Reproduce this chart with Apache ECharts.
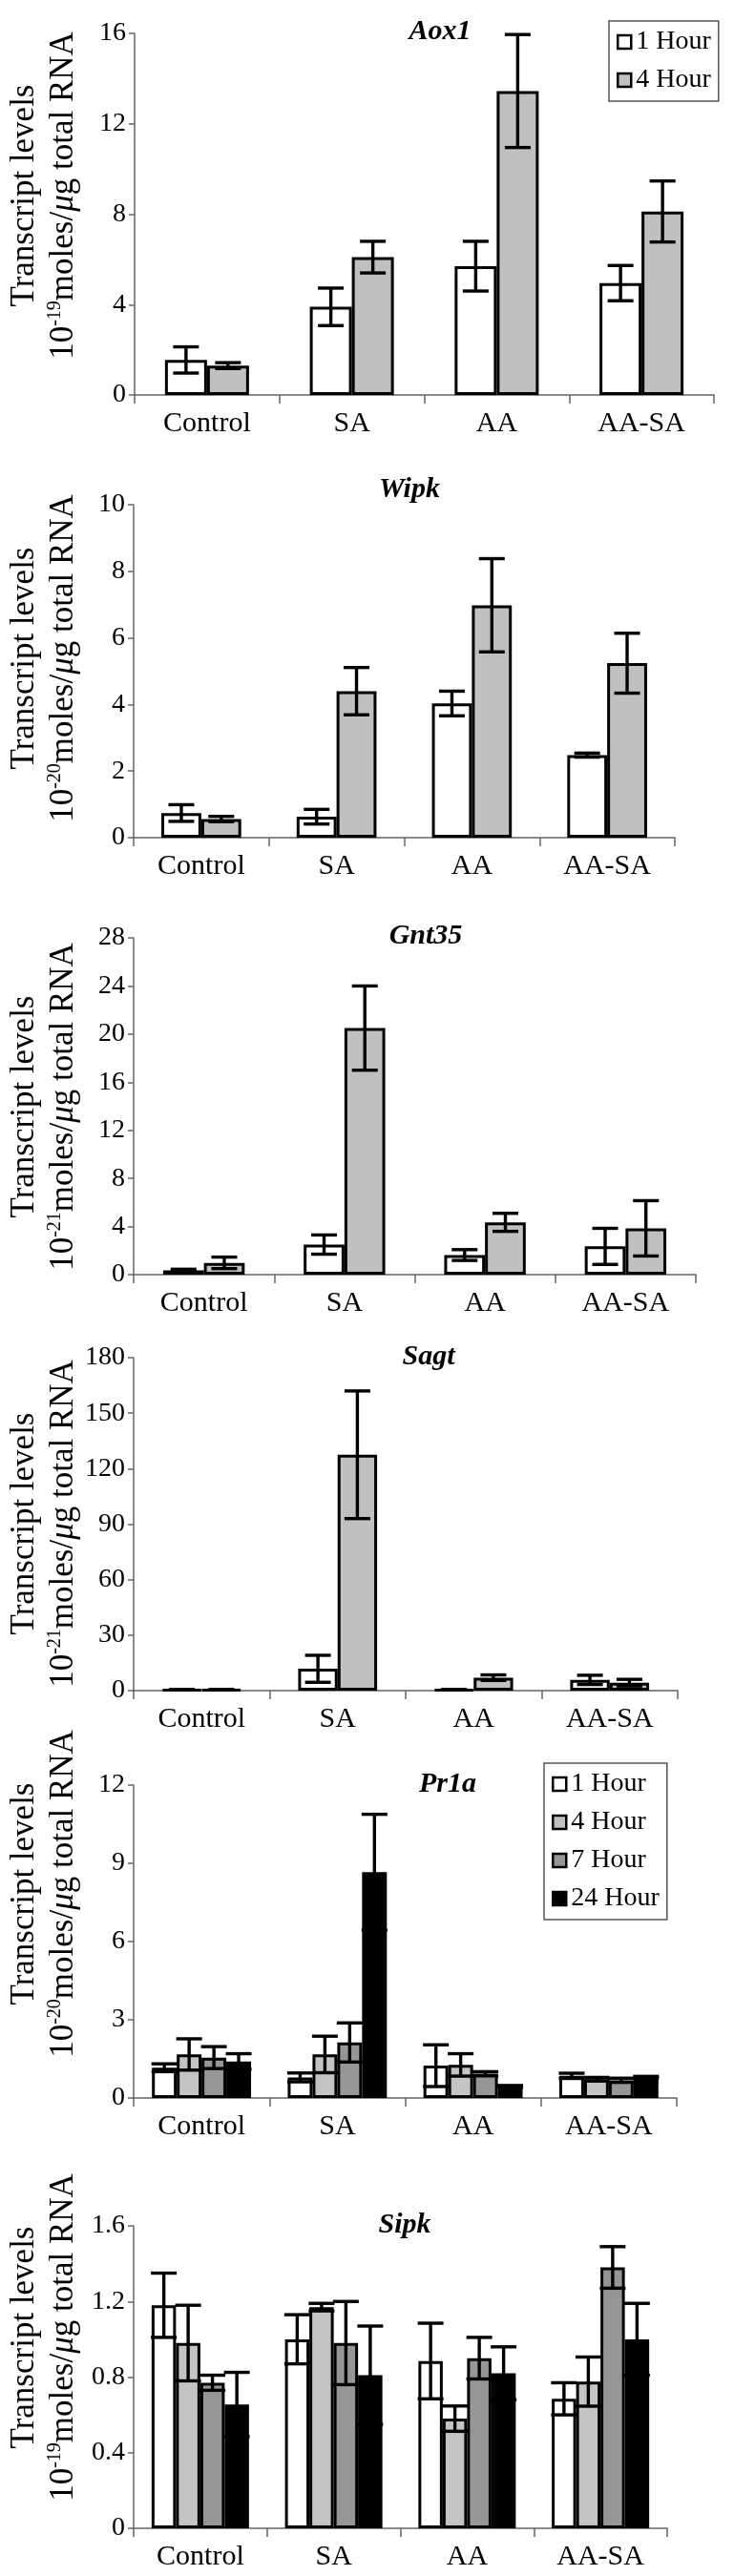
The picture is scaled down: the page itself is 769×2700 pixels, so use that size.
<!DOCTYPE html>
<html>
<head>
<meta charset="utf-8">
<script src="https://cdn.jsdelivr.net/npm/echarts@6/dist/echarts.min.js"></script>
<style>
html,body{margin:0;padding:0;background:#fff;}
#chart{width:769px;height:2700px;}
</style>
</head>
<body>
<div id="chart"></div>
<script>
// ---------- DATA ----------
const categories = ['Control', 'SA', 'AA', 'AA-SA'];
const seriesNames = ['1 Hour', '4 Hour', '7 Hour', '24 Hour'];

const aox1_1h = [1.55, 3.9, 5.7, 4.95];
const aox1_1h_err = [0.58, 0.83, 1.1, 0.78];
const aox1_4h = [1.3, 6.1, 13.45, 8.12];
const aox1_4h_err = [0.13, 0.7, 2.5, 1.35];

const wipk_1h = [0.74, 0.63, 4.03, 2.48];
const wipk_1h_err = [0.25, 0.22, 0.37, 0.06];
const wipk_4h = [0.56, 4.4, 6.98, 5.24];
const wipk_4h_err = [0.08, 0.71, 1.4, 0.9];

const gnt35_1h = [0.35, 2.5, 1.63, 2.35];
const gnt35_1h_err = [0.1, 0.8, 0.45, 1.5];
const gnt35_4h = [0.98, 20.5, 4.35, 3.85];
const gnt35_4h_err = [0.48, 3.5, 0.75, 2.3];

const sagt_1h = [0.5, 11.8, 0.5, 5.8];
const sagt_1h_err = [0.1, 7.3, 0.1, 2.5];
const sagt_4h = [0.5, 127.5, 7.0, 4.3];
const sagt_4h_err = [0.1, 34.5, 1.5, 1.8];

const pr1a_1h = [1.16, 0.79, 1.24, 0.85];
const pr1a_1h_err = [0.15, 0.17, 0.8, 0.1];
const pr1a_4h = [1.67, 1.67, 1.27, 0.72];
const pr1a_4h_err = [0.6, 0.7, 0.43, 0.07];
const pr1a_7h = [1.55, 2.13, 0.93, 0.68];
const pr1a_7h_err = [0.42, 0.75, 0.08, 0.08];
const pr1a_24h = [1.40, 8.66, 0.45, 0.8];
const pr1a_24h_err = [0.3, 2.22, 0.03, 0.03];

const sipk_1h = [1.18, 1.0, 0.885, 0.685];
const sipk_1h_err = [0.17, 0.13, 0.2, 0.085];
const sipk_4h = [0.98, 1.17, 0.58, 0.776];
const sipk_4h_err = [0.2, 0.02, 0.067, 0.13];
const sipk_7h = [0.77, 0.98, 0.9, 1.38];
const sipk_7h_err = [0.04, 0.22, 0.11, 0.11];
const sipk_24h = [0.655, 0.81, 0.82, 1.0];
const sipk_24h_err = [0.17, 0.26, 0.14, 0.19];

// ---------- LAYOUT ----------
const FONT = '"Liberation Serif", "Times New Roman", serif';
const twoColors = ['#ffffff', '#c0c0c0'];
const fourColors = ['#ffffff', '#c4c4c4', '#969696', '#000000'];

const panels = [
  {gene:'Aox1', exp:'-19', left:141, top:35, width:607, height:379, max:16, interval:4,
   vals:[aox1_1h, aox1_4h], errs:[aox1_1h_err, aox1_4h_err], colors:twoColors, gap:0.42,
   titleX:461, titleY:33, nameY:205},
  {gene:'Wipk', exp:'-20', left:140, top:529, width:567, height:349, max:10, interval:2,
   vals:[wipk_1h, wipk_4h], errs:[wipk_1h_err, wipk_4h_err], colors:twoColors, gap:0.41,
   titleX:429, titleY:513, nameY:690},
  {gene:'Gnt35', exp:'-21', left:140, top:983, width:589, height:353, max:28, interval:4,
   vals:[gnt35_1h, gnt35_4h], errs:[gnt35_1h_err, gnt35_4h_err], colors:twoColors, gap:0.42,
   titleX:446, titleY:981, nameY:1160},
  {gene:'Sagt', exp:'-21', left:140, top:1423, width:570, height:349, max:180, interval:30,
   vals:[sagt_1h, sagt_4h], errs:[sagt_1h_err, sagt_4h_err], colors:twoColors, gap:0.42,
   titleX:449, titleY:1422, nameY:1597},
  {gene:'Pr1a', exp:'-20', left:140, top:1871, width:569, height:328, max:12, interval:3,
   vals:[pr1a_1h, pr1a_4h, pr1a_7h, pr1a_24h], errs:[pr1a_1h_err, pr1a_4h_err, pr1a_7h_err, pr1a_24h_err],
   colors:fourColors, gap:0.27, titleX:469, titleY:1870, nameY:1985},
  {gene:'Sipk', exp:'-19', left:140, top:2333, width:559, height:317, max:1.6, interval:0.4,
   vals:[sipk_1h, sipk_4h, sipk_7h, sipk_24h], errs:[sipk_1h_err, sipk_4h_err, sipk_7h_err, sipk_24h_err],
   colors:fourColors, gap:0.27, titleX:424, titleY:2332, nameY:2450}
];

function errRenderer(sIdx, nSeries, gapFrac) {
  return function (params, api) {
    const cat = api.value(0), lo = api.value(1), hi = api.value(2);
    const band = api.size([1, 0])[0];
    const groupW = band * (1 - gapFrac);
    const barW = groupW / nSeries;
    const c = api.coord([cat, 0]);
    const x = c[0] - groupW / 2 + barW * (sIdx + 0.5);
    const yHi = api.coord([cat, hi])[1];
    const yLo = api.coord([cat, lo])[1];
    const cap = 13.5;
    const st = {stroke:'#000', lineWidth:3.4};
    return {type:'group', children:[
      {type:'line', shape:{x1:x, y1:yHi, x2:x, y2:yLo}, style:st},
      {type:'line', shape:{x1:x-cap, y1:yHi, x2:x+cap, y2:yHi}, style:st},
      {type:'line', shape:{x1:x-cap, y1:yLo, x2:x+cap, y2:yLo}, style:st}
    ]};
  };
}

const grids = [], xAxes = [], yAxes = [], series = [], graphics = [];
panels.forEach(function (p, pi) {
  grids.push({left:p.left, top:p.top, width:p.width, height:p.height, containLabel:false});
  xAxes.push({
    type:'category', gridIndex:pi, data:categories,
    axisLine:{lineStyle:{color:'#666', width:1.5}},
    axisTick:{show:true, length:9, lineStyle:{color:'#666', width:1.5}},
    axisLabel:{fontFamily:FONT, fontSize:30, color:'#000', margin:15}
  });
  yAxes.push({
    type:'value', gridIndex:pi, min:0, max:p.max, interval:p.interval,
    axisLine:{show:true, lineStyle:{color:'#666', width:1.5}},
    axisTick:{show:true, length:6, lineStyle:{color:'#666', width:1.5}},
    splitLine:{show:false},
    axisLabel:{fontFamily:FONT, fontSize:28, color:'#000', margin:9,
      formatter:function (v) { return String(+v.toFixed(2)); }}
  });
  const n = p.vals.length;
  p.vals.forEach(function (vals, s) {
    series.push({
      type:'bar', name:seriesNames[s], xAxisIndex:pi, yAxisIndex:pi, data:vals,
      barGap:'0%', barCategoryGap:(p.gap * 100) + '%',
      itemStyle:{color:p.colors[s], borderColor:'#000', borderWidth:3},
      z:2, silent:true
    });
  });
  p.vals.forEach(function (vals, s) {
    const errs = p.errs[s];
    series.push({
      type:'custom', name:'err', xAxisIndex:pi, yAxisIndex:pi,
      data:vals.map(function (v, i) { return [i, v - errs[i], v + errs[i]]; }),
      encode:{x:0, y:[1, 2]},
      renderItem:errRenderer(s, n, p.gap), z:5, silent:true
    });
  });
  graphics.push({
    type:'text', x:p.titleX, y:p.titleY,
    style:{text:p.gene, font:'italic bold 30px ' + FONT, fill:'#000',
      textAlign:'center', textVerticalAlign:'middle', align:'center', verticalAlign:'middle'}
  });
  graphics.push({
    type:'text', x:26, y:p.nameY, rotation:Math.PI / 2,
    style:{text:'Transcript levels', font:'35px ' + FONT, fill:'#000',
      textAlign:'center', textVerticalAlign:'middle', align:'center', verticalAlign:'middle'}
  });
  graphics.push({
    type:'text', x:66, y:p.nameY, rotation:Math.PI / 2,
    style:{
      text:'{a|10}{s|' + p.exp + '}{a|moles/}{m|\u03bc}{a|g total RNA}',
      textAlign:'center', textVerticalAlign:'middle', align:'center', verticalAlign:'middle',
      rich:{
        a:{fontFamily:FONT, fontSize:35, fill:'#000', color:'#000', verticalAlign:'bottom', lineHeight:36},
        s:{fontFamily:FONT, fontSize:20, fill:'#000', color:'#000', verticalAlign:'top', lineHeight:36},
        m:{fontFamily:FONT, fontSize:35, fontStyle:'italic', fill:'#000', color:'#000', verticalAlign:'bottom', lineHeight:36}
      }
    }
  });
});

const legendBase = {
  orient:'vertical', icon:'rect', itemWidth:14, itemHeight:14, itemGap:12,
  padding:[8, 8, 8, 8], borderColor:'#555', borderWidth:1.5, backgroundColor:'#fff',
  textStyle:{fontFamily:FONT, fontSize:28, color:'#000'},
  itemStyle:{borderColor:'#000', borderWidth:2.5},
  selectedMode:false
};

const option = {
  animation:false,
  backgroundColor:'#ffffff',
  grid:grids,
  xAxis:xAxes,
  yAxis:yAxes,
  legend:[
    Object.assign({}, legendBase, {data:['1 Hour', '4 Hour'], left:638, top:22}),
    Object.assign({}, legendBase, {data:['1 Hour', '4 Hour', '7 Hour', '24 Hour'], left:570, top:1848})
  ],
  graphic:graphics,
  series:series
};

const chart = echarts.init(document.getElementById('chart'), null, {renderer:'canvas'});
chart.setOption(option);
</script>
</body>
</html>
